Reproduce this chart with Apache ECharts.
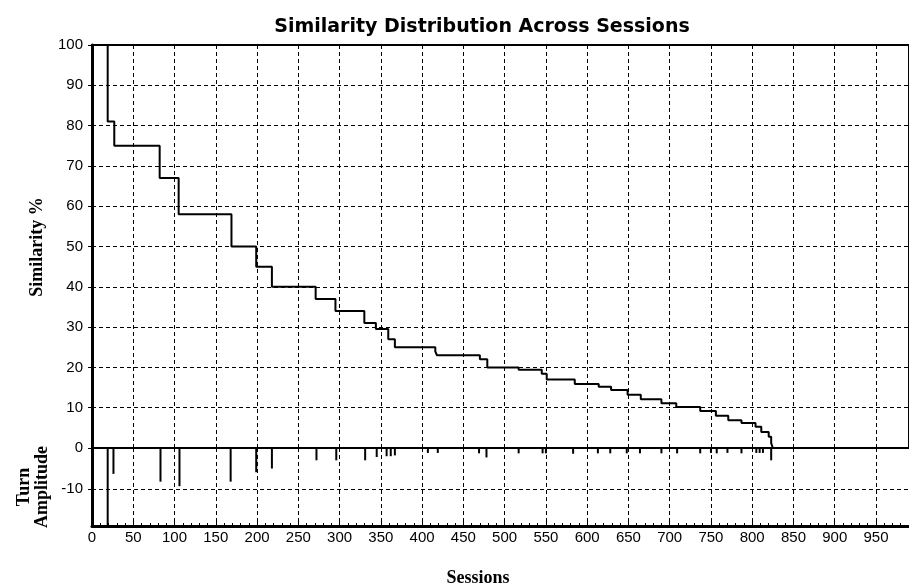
<!DOCTYPE html>
<html>
<head>
<meta charset="utf-8">
<script src="https://cdn.jsdelivr.net/npm/echarts@6/dist/echarts.min.js"></script>
<style>html,body{margin:0;padding:0;background:#fff;}#c{width:909px;height:587px;}</style>
</head>
<body>
<div id="c"></div>
<script>
// Similarity step curve: session where each level starts, and its similarity %
const sessStart = [0, 19, 27, 82, 105, 169, 199, 218, 271, 295, 330, 344, 359, 367, 416, 418, 470, 479, 517, 545, 551, 585, 614, 629, 649, 665, 690, 708, 737, 756, 771, 787, 804, 811, 820, 823, 825];
const similarity = [100, 81, 75, 67, 58, 50, 45, 40, 37, 34, 31, 29.5, 27, 25, 24, 23, 22, 20, 19.4, 18.4, 17, 15.9, 15.2, 14.4, 13.2, 12.1, 11.1, 10.2, 9.2, 8.0, 6.9, 6.2, 5.3, 4.0, 2.8, 1.2, 0];
// Turn amplitude spikes
const ampSessions = [19, 26, 83, 106, 168, 199, 218, 272, 296, 331, 345, 357, 362, 367, 407, 419, 469, 478, 517, 546, 550, 583, 613, 628, 648, 664, 690, 709, 737, 750, 757, 770, 787, 805, 809, 813, 823];
const ampValues = [-19, -6.3, -8.2, -9.3, -8.2, -5.9, -5.0, -3, -3, -3, -2.2, -2, -2, -1.8, -1.2, -1.2, -1.3, -2.3, -1.3, -1.3, -1.3, -1.4, -1.3, -1.3, -1.3, -1.3, -1.3, -1.3, -1.3, -1.2, -1.3, -1.2, -1.3, -1.2, -1.2, -1.2, -3];
const titleText = 'Similarity Distribution Across Sessions';
const xName = 'Sessions';
const yNameTop = 'Similarity %';
const yNameBottom = 'Turn\nAmplitude';

const chart = echarts.init(document.getElementById('c'), null, {renderer: 'canvas'});
const dash = {color: '#000', width: 1, type: [4, 3]};
const labelFont = {color: '#000', fontFamily: 'Liberation Sans, Arial, sans-serif', fontSize: 15};

chart.setOption({
  animation: false,
  backgroundColor: '#fff',
  grid: [
    {left: 92, top: 45, width: 819, height: 403, show: true, borderColor: '#000', borderWidth: 2, backgroundColor: 'transparent'},
    {left: 92, top: 448, width: 819, height: 78}
  ],
  xAxis: [
    {type: 'value', gridIndex: 0, min: 0, max: 990, interval: 50,
     axisLine: {show: true, onZero: false, lineStyle: {color: '#000', width: 2}},
     axisTick: {show: false}, axisLabel: {show: false},
     splitLine: {show: true, lineStyle: dash}},
    {type: 'value', gridIndex: 1, min: 0, max: 990, interval: 50,
     axisLine: {show: true, onZero: false, lineStyle: {color: '#000', width: 3}},
     axisTick: {show: true, inside: true, length: 5, lineStyle: {color: '#000', width: 1}},
     minorTick: {show: true, splitNumber: 5, length: 3, lineStyle: {color: '#000', width: 1}},
     axisLabel: Object.assign({margin: 4, showMaxLabel: false}, labelFont),
     splitLine: {show: true, lineStyle: dash}}
  ],
  yAxis: [
    {type: 'value', gridIndex: 0, min: 0, max: 100, interval: 10,
     axisLine: {show: true, lineStyle: {color: '#000', width: 3}},
     axisTick: {show: true, length: 4, lineStyle: {color: '#000', width: 1}},
     axisLabel: Object.assign({margin: 9}, labelFont),
     splitLine: {show: true, lineStyle: dash}},
    {type: 'value', gridIndex: 1, min: -19, max: 0, splitNumber: 2,
     axisLine: {show: true, lineStyle: {color: '#000', width: 3}},
     axisTick: {show: true, length: 4, lineStyle: {color: '#000', width: 1}},
     axisLabel: Object.assign({margin: 9, showMinLabel: false, showMaxLabel: false}, labelFont),
     splitLine: {show: true, lineStyle: dash}}
  ],
  series: [
    {type: 'line', xAxisIndex: 0, yAxisIndex: 0, step: 'end', symbol: 'none',
     lineStyle: {color: '#000', width: 2},
     data: sessStart.map((s, i) => [s, similarity[i]])},
    {type: 'bar', xAxisIndex: 1, yAxisIndex: 1, barWidth: 2,
     itemStyle: {color: '#000'},
     data: ampSessions.map((s, i) => [s, ampValues[i]])}
  ],
  graphic: [
    {type: 'text', x: 482, y: 27, style: {text: titleText, fill: '#000', font: 'bold 19px "DejaVu Sans", sans-serif', textAlign: 'center', textVerticalAlign: 'middle'}},
    {type: 'text', x: 478, y: 578, style: {text: xName, fill: '#000', font: 'bold 18px "Liberation Serif", "Times New Roman", serif', textAlign: 'center', textVerticalAlign: 'middle'}},
    {type: 'text', x: 37, y: 247, rotation: Math.PI / 2, style: {text: yNameTop, fill: '#000', font: 'bold 18px "Liberation Serif", "Times New Roman", serif', textAlign: 'center', textVerticalAlign: 'middle'}},
    {type: 'text', x: 33, y: 487, rotation: Math.PI / 2, style: {text: yNameBottom, fill: '#000', font: 'bold 18px "Liberation Serif", "Times New Roman", serif', lineHeight: 18, textAlign: 'center', textVerticalAlign: 'middle'}}
  ]
});
</script>
</body>
</html>
